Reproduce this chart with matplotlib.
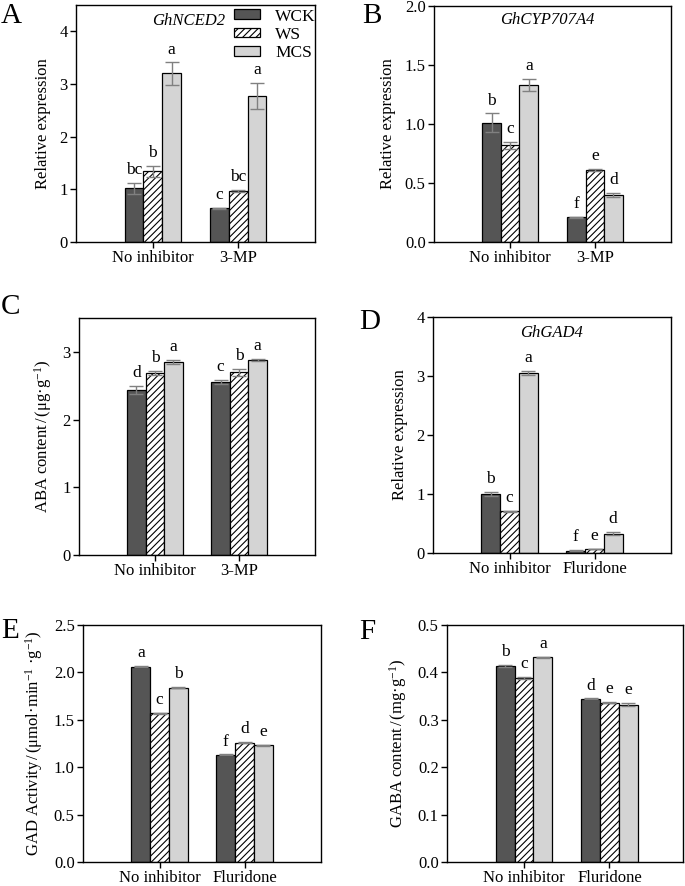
import numpy as np
import matplotlib
matplotlib.use('Agg')
import matplotlib.pyplot as plt

plt.rcParams['font.family'] = ['Liberation Serif', 'DejaVu Serif']
plt.rcParams['mathtext.fontset'] = 'custom'
plt.rcParams['mathtext.rm'] = 'Liberation Serif'
plt.rcParams['mathtext.it'] = 'Liberation Serif:italic'
plt.rcParams['hatch.linewidth'] = 0.8
plt.rcParams['axes.linewidth'] = 1.0

# --- 1. Data ---
series = ['WCK', 'WS', 'MCS']
groups_mp = ['No inhibitor', '3-MP']
groups_fl = ['No inhibitor', 'Fluridone']

# rows: WCK, WS, MCS ; cols: groups
nced2_mean = [[1.02, 0.64], [1.34, 0.97], [3.20, 2.77]]
nced2_err = [[0.10, 0.01], [0.10, 0.02], [0.21, 0.25]]
nced2_sig = [['bc', 'c'], ['b', 'bc'], ['a', 'a']]

cyp_mean = [[1.01, 0.21], [0.82, 0.61], [1.33, 0.40]]
cyp_err = [[0.08, 0.005], [0.03, 0.01], [0.05, 0.015]]
cyp_sig = [['b', 'f'], ['c', 'e'], ['a', 'd']]

aba_mean = [[2.44, 2.55], [2.69, 2.70], [2.85, 2.88]]
aba_err = [[0.06, 0.03], [0.03, 0.05], [0.03, 0.02]]
aba_sig = [['d', 'c'], ['b', 'b'], ['a', 'a']]

gad4_mean = [[1.00, 0.04], [0.71, 0.07], [3.05, 0.33]]
gad4_err = [[0.03, 0.005], [0.01, 0.005], [0.04, 0.03]]
gad4_sig = [['b', 'f'], ['c', 'e'], ['a', 'd']]

gad_act_mean = [[2.06, 1.13], [1.57, 1.26], [1.84, 1.23]]
gad_act_err = [[0.005, 0.004], [0.006, 0.006], [0.005, 0.005]]
gad_act_sig = [['a', 'f'], ['c', 'd'], ['b', 'e']]

gaba_mean = [[0.414, 0.344], [0.388, 0.336], [0.432, 0.332]]
gaba_err = [[0.002, 0.001], [0.002, 0.001], [0.001, 0.003]]
gaba_sig = [['b', 'd'], ['c', 'e'], ['a', 'e']]

# --- 2. Style ---
W, H = 685, 886
colors = ['#555555', 'white', '#d4d4d4']
hatches = [None, '/////', None]
BAR_W = 0.22


def px_axes(l, t, r, b):
    return [l / W, 1 - b / H, (r - l) / W, (b - t) / H]


def draw_panel(rect, means, errs, sigs, groups, ylim, yticks, fmt, ylabel, gene=None, gene_pos=None, legend=False, xlim=(-0.9, 1.9)):
    ax = fig.add_axes(px_axes(*rect))
    x = np.arange(len(groups))
    for i, name in enumerate(series):
        xs = x + (i - 1) * BAR_W
        ax.bar(xs, means[i], BAR_W, color=colors[i], edgecolor='black', linewidth=0.9,
               hatch=hatches[i], label=name, zorder=2)
        ax.errorbar(xs, means[i], yerr=errs[i], fmt='none', ecolor='#808080',
                    elinewidth=1.0, capsize=5, capthick=1.0, zorder=3)
        for xx, m, e, s in zip(xs, means[i], errs[i], sigs[i]):
            ax.annotate(s, (xx, m + e), xytext=(0, 3.5), textcoords='offset points',
                        ha='center', va='bottom', fontsize=12.5)
    ax.set_xlim(*xlim)
    ax.set_ylim(*ylim)
    ax.set_xticks(x)
    ax.set_xticklabels(groups, fontsize=12)
    ax.set_yticks(yticks)
    ax.set_yticklabels([fmt % v for v in yticks], fontsize=12)
    ax.tick_params(direction='out', length=4, width=1, pad=2)
    ax.set_ylabel(ylabel, fontsize=12, labelpad=6)
    if gene:
        ax.text(gene_pos[0], gene_pos[1], gene, transform=ax.transAxes, fontsize=12,
                style='italic', ha='center', va='center')
    if legend:
        ax.legend(loc='upper left', bbox_to_anchor=(0.66, 0.985), frameon=False,
                  fontsize=12.5, handlelength=1.5, handleheight=0.5, handletextpad=0.9,
                  labelspacing=0.12, borderaxespad=0, borderpad=0)
    return ax


fig = plt.figure(figsize=(W / 100, H / 100), dpi=100)

draw_panel((76, 5, 315, 242), nced2_mean, nced2_err, nced2_sig, groups_mp, (0, 4.5),
           [0, 1, 2, 3, 4], '%d', 'Relative expression', 'GhNCED2', (0.47, 0.932), legend=True)
draw_panel((434, 6, 671, 242), cyp_mean, cyp_err, cyp_sig, groups_mp, (0, 2.0),
           [0, 0.5, 1.0, 1.5, 2.0], '%.1f', 'Relative expression', 'GhCYP707A4', (0.48, 0.94))
draw_panel((79, 318, 315, 555), aba_mean, aba_err, aba_sig, groups_mp, (0, 3.5),
           [0, 1, 2, 3], '%d', r'ABA content$\,$/$\,$(μg·g$^{-1}$)')
draw_panel((433, 317, 671, 553), gad4_mean, gad4_err, gad4_sig, groups_fl, (0, 4),
           [0, 1, 2, 3, 4], '%d', 'Relative expression', 'GhGAD4', (0.5, 0.932))
draw_panel((83, 625, 321, 862), gad_act_mean, gad_act_err, gad_act_sig, groups_fl, (0, 2.5),
           [0, 0.5, 1.0, 1.5, 2.0, 2.5], '%.1f', r'GAD Activity$\,$/$\,$(μmol·min$^{-1}$ ·g$^{-1}$)')
draw_panel((447, 625, 683, 862), gaba_mean, gaba_err, gaba_sig, groups_fl, (0, 0.5),
           [0, 0.1, 0.2, 0.3, 0.4, 0.5], '%.1f', r'GABA content$\,$/$\,$(mg·g$^{-1}$)',
           xlim=(-0.9, 1.86))

# panel letters
for lab, (px, py) in zip('ABCDEF', [(11, 16), (372, 16), (10, 307), (370, 322), (10, 631), (367, 632)]):
    fig.text(px / W, 1 - py / H, lab, fontsize=21, ha='center', va='center')

fig.savefig('out.png', dpi=100)
